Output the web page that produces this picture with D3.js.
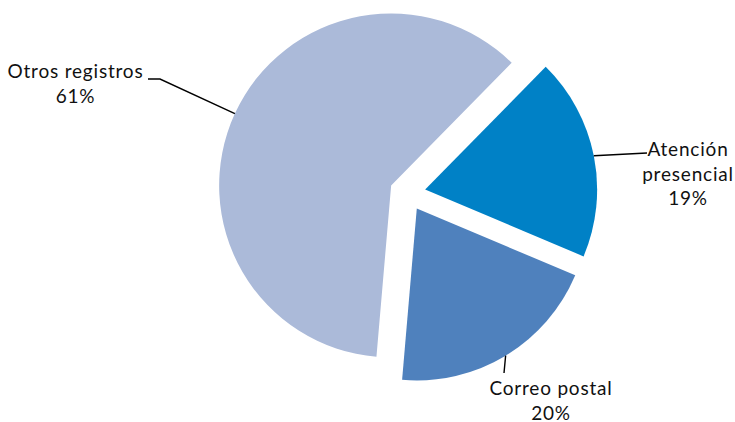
<!DOCTYPE html>
<html>
<head>
<meta charset="utf-8">
<script src="https://cdn.jsdelivr.net/npm/d3@7"></script>
<style>
  body { margin: 0; background: #fff; }
  text { font-family: Lato, "Open Sans", sans-serif; font-size: 19px; letter-spacing: 0.8px; fill: #111; }
</style>
</head>
<body>
<svg></svg>
<script>
var svgWidth = 735;
var svgHeight = 422;

// data, clockwise from the start angle
var categories = ['Atención presencial', 'Correo postal', 'Otros registros'];
var labelLines = [['Atención', 'presencial'], ['Correo postal'], ['Otros registros']];
var values = [19, 20, 61];
var colors = ['#0081c6', '#4f81bd', '#abbad9'];

var svg = d3.select('svg')
    .attr('width', svgWidth)
    .attr('height', svgHeight);

var cx = 407.5, cy = 193, radius = 172, explode = 18;

var pie = d3.pie()
    .sort(null)
    .value(d => d)
    .startAngle(44.5 * Math.PI / 180)
    .endAngle(44.5 * Math.PI / 180 + 2 * Math.PI);

var arc = d3.arc().innerRadius(0).outerRadius(radius);

var arcs = pie(values);

/* offset of a slice along its mid angle */
function offset(d, dist){
    var a = (d.startAngle + d.endAngle) / 2;
    return [dist * Math.sin(a), -dist * Math.cos(a)];
}

var g = svg.append('g').attr('transform', `translate(${cx},${cy})`);

g.selectAll('path')
    .data(arcs)
    .enter()
    .append('path')
    .attr('d', arc)
    .attr('transform', d => { var o = offset(d, explode); return `translate(${o[0]},${o[1]})`; })
    .style('fill', (d, i) => colors[i]);

// label layout: leader end points and text anchors (page coords)
var labelLayout = [
    { bend: [647, 153], end: [647, 153], tx: 688, ty: 156 },
    { bend: [504, 373], end: [504, 373], tx: 551, ty: 395 },
    { bend: [160, 79],  end: [148, 79],  tx: 75.5, ty: 78 }
];
var lineGap = 24.5;

arcs.forEach((d, i) => {
    var o = offset(d, explode);
    var e = offset(d, radius);
    var start = [cx + o[0] + e[0], cy + o[1] + e[1]];
    var lay = labelLayout[i];

    svg.append('polyline')
        .attr('points', [start, lay.bend, lay.end].map(p => p.join(',')).join(' '))
        .style('fill', 'none')
        .style('stroke', '#000')
        .style('stroke-width', 1.4);

    var lines = labelLines[i].concat([d3.format('.0f')(values[i]) + '%']);
    var t = svg.append('text')
        .attr('text-anchor', 'middle')
        .attr('x', lay.tx)
        .attr('y', lay.ty);
    lines.forEach((ln, j) => {
        t.append('tspan')
            .attr('x', lay.tx)
            .attr('dy', j === 0 ? 0 : lineGap)
            .text(ln);
    });
});
</script>
</body>
</html>
